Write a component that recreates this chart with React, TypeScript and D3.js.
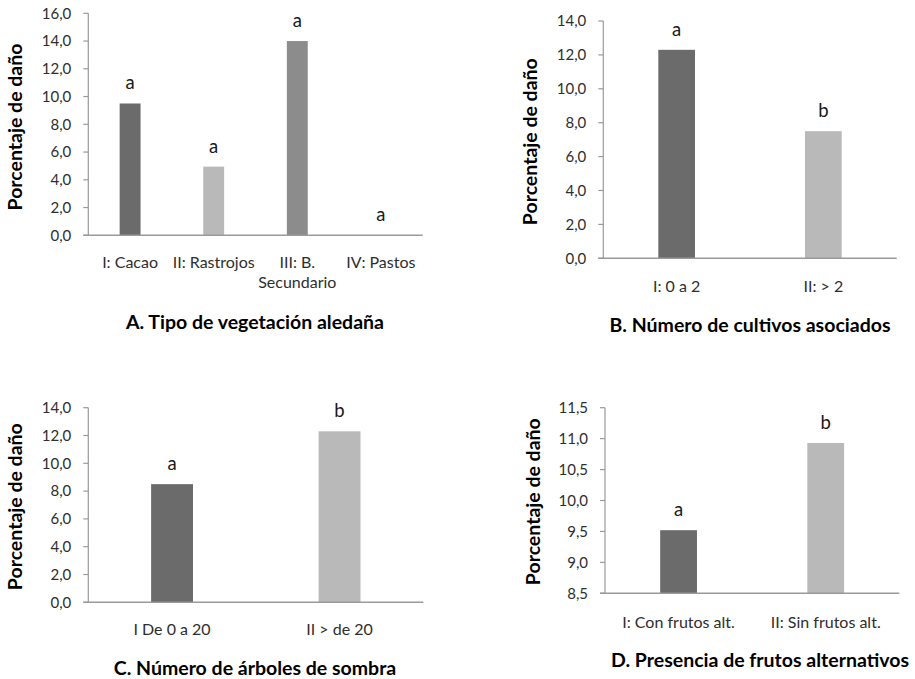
import React from "react";
import * as d3 from "d3";

// ---- Data ----
const catsA = ["I: Cacao", "II: Rastrojos", "III: B.|Secundario", "IV: Pastos"];
const valsA = [9.5, 4.95, 14.0, 0];
const letA = ["a", "a", "a", "a"];
const titleA = "A. Tipo de vegetación aledaña";

const catsB = ["I: 0 a 2", "II: > 2"];
const valsB = [12.3, 7.5];
const letB = ["a", "b"];
const titleB = "B. Número de cultivos asociados";

const catsC = ["I De 0 a 20", "II > de 20"];
const valsC = [8.5, 12.3];
const letC = ["a", "b"];
const titleC = "C. Número de árboles de sombra";

const catsD = ["I: Con frutos alt.", "II: Sin frutos alt."];
const valsD = [9.52, 10.93];
const letD = ["a", "b"];
const titleD = "D. Presencia de frutos alternativos";

const ticksA = [0, 2, 4, 6, 8, 10, 12, 14, 16];
const ticksB = [0, 2, 4, 6, 8, 10, 12, 14];
const ticksC = [0, 2, 4, 6, 8, 10, 12, 14];
const ticksD = [8.5, 9, 9.5, 10, 10.5, 11, 11.5];

const yTitle = "Porcentaje de daño";

const DARK = "#6b6b6b";
const LIGHT = "#b9b9b9";
const MID = "#8c8c8c";
const AXIS = "#9a9a9a";
const FONT = "Lato, 'Open Sans', sans-serif";

const fmt = (v: number) => d3.format(".1f")(v).replace(".", ",");

type PanelProps = {
  cats: string[];
  vals: number[];
  letters: string[];
  ticks: number[];
  colors: string[];
  title: string;
  left: number;
  right: number;
  top: number;
  bottom: number;
  titleX: number;
  titleY: number;
  yTitleX: number;
  yTitleY: number;
  xLabelY: number;
};

function Panel(p: PanelProps) {
  const yMin = p.ticks[0];
  const yMax = p.ticks[p.ticks.length - 1];
  const y = d3.scaleLinear().domain([yMin, yMax]).range([p.bottom, p.top]);
  const x = d3
    .scaleBand()
    .domain(p.cats)
    .range([p.left, p.right])
    .paddingInner(0)
    .paddingOuter(0);
  const bw = x.bandwidth() * 0.25;
  return (
    <g>
      {p.cats.map((c, i) => {
        const cx = (x(c) as number) + x.bandwidth() / 2;
        const yt = y(p.vals[i]);
        return p.vals[i] > yMin ? (
          <rect
            key={"b" + i}
            x={cx - bw / 2}
            y={yt}
            width={bw}
            height={p.bottom - yt}
            fill={p.colors[i]}
          />
        ) : null;
      })}
      {p.cats.map((c, i) => {
        const cx = (x(c) as number) + x.bandwidth() / 2;
        return (
          <text
            key={"l" + i}
            x={cx}
            y={y(p.vals[i]) - 14}
            textAnchor="middle"
            fontSize={18.5}
            fontFamily={FONT}
            fill="#1a1a1a"
          >
            {p.letters[i]}
          </text>
        );
      })}
      <line x1={p.left} x2={p.left} y1={p.top} y2={p.bottom} stroke={AXIS} strokeWidth={1.2} />
      {p.ticks.map((t, i) => (
        <g key={"t" + i}>
          <line x1={p.left - 5} x2={p.left} y1={y(t)} y2={y(t)} stroke={AXIS} strokeWidth={1.2} />
          <text
            x={p.left - 17}
            y={y(t)}
            dy="0.35em"
            textAnchor="end"
            fontSize={15}
            fontFamily={FONT}
            fill="#2e2e2e"
          >
            {fmt(t)}
          </text>
        </g>
      ))}
      <line x1={p.left - 5} x2={p.right} y1={p.bottom} y2={p.bottom} stroke={AXIS} strokeWidth={1.5} />
      {p.cats.map((c, i) => {
        const cx = (x(c) as number) + x.bandwidth() / 2;
        const lines = c.split("|");
        return (
          <text
            key={"x" + i}
            x={cx}
            y={p.xLabelY}
            textAnchor="middle"
            fontSize={16}
            fontFamily={FONT}
            fill="#2e2e2e"
          >
            {lines.map((ln, j) => (
              <tspan key={j} x={cx} dy={j === 0 ? 0 : 20}>
                {ln}
              </tspan>
            ))}
          </text>
        );
      })}
      <text
        transform={`translate(${p.yTitleX},${p.yTitleY}) rotate(-90)`}
        textAnchor="middle"
        dy="0.35em"
        fontSize={19.5}
        fontWeight="bold"
        fontFamily={FONT}
        fill="#000"
      >
        {yTitle}
      </text>
      <text
        x={p.titleX}
        y={p.titleY}
        dy="0.35em"
        textAnchor="middle"
        fontSize={19.5}
        fontWeight="bold"
        fontFamily={FONT}
        fill="#000"
      >
        {p.title}
      </text>
    </g>
  );
}

export default function App() {
  return (
    <svg
      width={915}
      height={679}
      style={{ position: "absolute", left: 0, top: 0, background: "#fff" }}
    >
      <rect width={915} height={679} fill="#fff" />
      <Panel
        cats={catsA}
        vals={valsA}
        letters={letA}
        ticks={ticksA}
        colors={[DARK, LIGHT, MID, MID]}
        title={titleA}
        left={88.3}
        right={422.7}
        top={13.3}
        bottom={235.3}
        titleX={255}
        titleY={322}
        yTitleX={15}
        yTitleY={127}
        xLabelY={268}
      />
      <Panel
        cats={catsB}
        vals={valsB}
        letters={letB}
        ticks={ticksB}
        colors={[DARK, LIGHT]}
        title={titleB}
        left={603.3}
        right={896.7}
        top={21}
        bottom={258.3}
        titleX={750}
        titleY={325}
        yTitleX={530}
        yTitleY={141.7}
        xLabelY={292}
      />
      <Panel
        cats={catsC}
        vals={valsC}
        letters={letC}
        ticks={ticksC}
        colors={[DARK, LIGHT]}
        title={titleC}
        left={88.3}
        right={423.3}
        top={407.7}
        bottom={602.3}
        titleX={255}
        titleY={668.3}
        yTitleX={15}
        yTitleY={506.7}
        xLabelY={635}
      />
      <Panel
        cats={catsD}
        vals={valsD}
        letters={letD}
        ticks={ticksD}
        colors={[DARK, LIGHT]}
        title={titleD}
        left={605}
        right={899.3}
        top={407.7}
        bottom={593.3}
        titleX={760}
        titleY={660}
        yTitleX={533}
        yTitleY={501.7}
        xLabelY={628}
      />
    </svg>
  );
}
